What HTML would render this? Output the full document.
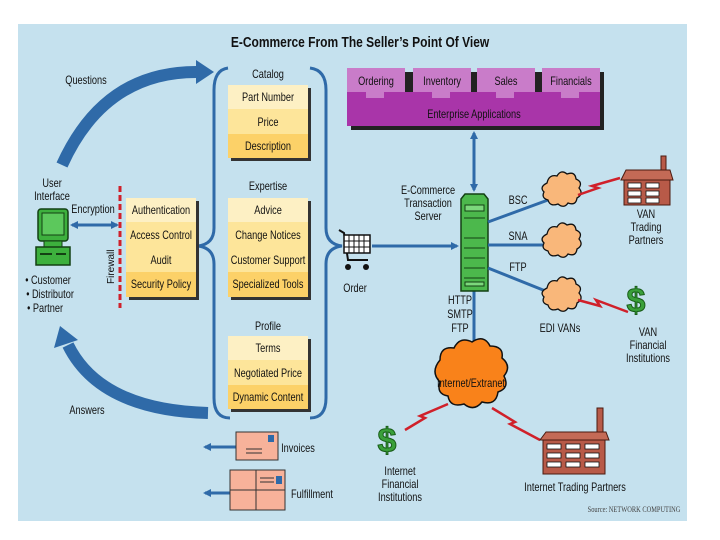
<!DOCTYPE html>
<html><head><meta charset="utf-8"><style>
html,body{margin:0;padding:0;background:#fff;}
svg{display:block;}
text{font-family:"Liberation Sans",sans-serif;font-size:11.5px;fill:#111;text-anchor:middle;}
text:not(.r){transform-box:fill-box;transform-origin:center;transform:scaleX(0.8);}
.b{font-weight:bold;}
</style></head><body>
<svg width="720" height="540" viewBox="0 0 720 540" xmlns="http://www.w3.org/2000/svg">
<defs>
<marker id="ah" markerWidth="8" markerHeight="8" refX="6" refY="4" orient="auto" markerUnits="userSpaceOnUse"><path d="M0,0 L8,4 L0,8 Z" fill="#2f6aa8"/></marker>
<marker id="ahs" markerWidth="8" markerHeight="8" refX="6" refY="4" orient="auto-start-reverse" markerUnits="userSpaceOnUse"><path d="M0,0 L8,4 L0,8 Z" fill="#2f6aa8"/></marker>
<g id="cloud"><path d="M-14,-10 q2,-9 10,-7 q4,-7 10,-2 q8,-3 9,5 q7,3 3,9 q5,6 -2,10 q-1,8 -9,5 q-4,6 -10,1 q-8,3 -10,-4 q-7,-2 -4,-8 q-5,-5 3,-9z" fill="#f9b77a" stroke="#111" stroke-width="1.3"/></g>
<g id="dollar"><text class="r" x="0" y="0" style="font-family:'Liberation Sans',sans-serif;font-size:34px;font-weight:bold;fill:#3aa03a;stroke:#185c18;stroke-width:1">$</text></g>
</defs>
<rect x="18" y="24" width="669" height="497" fill="#c5e1ee"/>
<text x="360" y="47" class="b" style="font-size:15px">E-Commerce From The Seller’s Point Of View</text>

<path d="M62,165 Q105,70 200,72" fill="none" stroke="#2f6aa8" stroke-width="12"/>
<path d="M196,60 L214,72 L196,84 Z" fill="#2f6aa8"/>
<text x="86" y="84">Questions</text>
<path d="M208,413 Q100,410 68,345" fill="none" stroke="#2f6aa8" stroke-width="12"/>
<path d="M54,348 L60,326 L78,340 Z" fill="#2f6aa8"/>
<text x="87" y="414">Answers</text>

<path d="M228,68 Q214,70 214,90 L214,228 Q214,244 198,246 Q214,248 214,264 L214,398 Q214,418 230,418" fill="none" stroke="#2f6aa8" stroke-width="3"/>
<path d="M310,68 Q326,70 326,90 L326,228 Q326,244 342,246 Q326,248 326,264 L326,398 Q326,418 310,418" fill="none" stroke="#2f6aa8" stroke-width="3"/>

<text x="268" y="78">Catalog</text>
<rect x="231" y="88" width="80" height="73" fill="#333"/>
<rect x="228" y="85" width="80" height="24" fill="#fdf0c4"/>
<rect x="228" y="109" width="80" height="25" fill="#fde59a"/>
<rect x="228" y="134" width="80" height="24" fill="#fcd168"/>
<text x="268" y="101">Part Number</text><text x="268" y="126">Price</text><text x="268" y="150">Description</text>

<text x="268" y="190">Expertise</text>
<rect x="231" y="201" width="80" height="99" fill="#333"/>
<rect x="228" y="198" width="80" height="24" fill="#fdf0c4"/>
<rect x="228" y="222" width="80" height="25" fill="#fde59a"/>
<rect x="228" y="247" width="80" height="25" fill="#fde59a"/>
<rect x="228" y="272" width="80" height="25" fill="#fcd168"/>
<text x="268" y="214">Advice</text><text x="268" y="239">Change Notices</text><text x="268" y="264">Customer Support</text><text x="268" y="288">Specialized Tools</text>

<text x="268" y="330">Profile</text>
<rect x="231" y="339" width="80" height="73" fill="#333"/>
<rect x="228" y="336" width="80" height="24" fill="#fdf0c4"/>
<rect x="228" y="360" width="80" height="25" fill="#fde59a"/>
<rect x="228" y="385" width="80" height="24" fill="#fcd168"/>
<text x="268" y="352">Terms</text><text x="268" y="377">Negotiated Price</text><text x="268" y="401">Dynamic Content</text>

<rect x="129" y="201" width="70" height="99" fill="#333"/>
<rect x="126" y="198" width="70" height="24" fill="#fdf0c4"/>
<rect x="126" y="222" width="70" height="25" fill="#fde59a"/>
<rect x="126" y="247" width="70" height="25" fill="#fde59a"/>
<rect x="126" y="272" width="70" height="25" fill="#fcd168"/>
<text x="161" y="214">Authentication</text><text x="161" y="239">Access Control</text><text x="161" y="264">Audit</text><text x="161" y="288">Security Policy</text>

<line x1="120" y1="186" x2="120" y2="308" stroke="#d0202a" stroke-width="3" stroke-dasharray="6,3"/>
<text class="r" x="0" y="0" transform="translate(114,284) rotate(-90)" style="font-size:10px;text-anchor:start">Firewall</text>

<text x="52" y="187">User</text><text x="52" y="200">Interface</text>
<text x="93" y="213">Encryption</text>
<line x1="72" y1="225" x2="117" y2="225" stroke="#2f6aa8" stroke-width="3" marker-start="url(#ahs)" marker-end="url(#ah)"/>
<rect x="38" y="209" width="30" height="32" rx="3" fill="#3db03d" stroke="#134013" stroke-width="1.5"/>
<rect x="42" y="213" width="22" height="22" fill="#5cc85c" stroke="#134013"/>
<rect x="44" y="241" width="18" height="6" fill="#3db03d" stroke="#134013"/>
<rect x="36" y="247" width="34" height="18" fill="#3db03d" stroke="#134013" stroke-width="1.5"/>
<line x1="40" y1="254" x2="52" y2="254" stroke="#134013" stroke-width="2"/>
<line x1="56" y1="254" x2="66" y2="254" stroke="#134013" stroke-width="2"/>
<text x="48" y="284">• Customer</text>
<text x="50" y="298">• Distributor</text>
<text x="45" y="312">• Partner</text>

<path d="M339,230 L344,233 L348,260 L368,260" fill="none" stroke="#111" stroke-width="2"/>
<rect x="344" y="235" width="26" height="18" fill="#fff" stroke="#111" stroke-width="1.5"/>
<path d="M349,235v18M354,235v18M359,235v18M364,235v18M344,241h26M344,247h26" stroke="#111" stroke-width="1"/>
<circle cx="348" cy="267" r="3" fill="#111"/><circle cx="366" cy="267" r="3" fill="#111"/>
<text x="355" y="292">Order</text>
<line x1="372" y1="246" x2="457" y2="246" stroke="#2f6aa8" stroke-width="3" marker-end="url(#ah)"/>

<rect x="351" y="72" width="253" height="58" fill="#222"/>
<rect x="347" y="92" width="253" height="34" fill="#a935a9"/>
<g fill="#c97cc9">
<rect x="347" y="68" width="58" height="24"/><rect x="366" y="92" width="18" height="6"/>
<rect x="413" y="68" width="58" height="24"/><rect x="432" y="92" width="18" height="6"/>
<rect x="477" y="68" width="58" height="24"/><rect x="496" y="92" width="18" height="6"/>
<rect x="542" y="68" width="58" height="24"/><rect x="561" y="92" width="18" height="6"/>
</g>
<text x="376" y="85">Ordering</text><text x="442" y="85">Inventory</text><text x="506" y="85">Sales</text><text x="571" y="85">Financials</text>
<text x="474" y="118">Enterprise Applications</text>
<line x1="474" y1="133" x2="474" y2="190" stroke="#2f6aa8" stroke-width="3" marker-start="url(#ahs)" marker-end="url(#ah)"/>

<text x="428" y="194">E-Commerce</text><text x="428" y="207">Transaction</text><text x="428" y="220">Server</text>
<line x1="474" y1="290" x2="474" y2="345" stroke="#2f6aa8" stroke-width="3"/>
<path d="M461,199 L465,194 L484,194 L488,199 L488,291 L461,291 Z" fill="#4cb84c" stroke="#134013" stroke-width="1.5"/>
<rect x="465" y="205" width="19" height="6" fill="#7cd87c" stroke="#134013"/>
<path d="M464,218h21M464,238h21M464,248h21M464,258h21M464,268h21M464,278h21" stroke="#134013"/>
<rect x="465" y="282" width="19" height="4" fill="#7cd87c" stroke="#134013"/>

<line x1="488" y1="222" x2="548" y2="200" stroke="#2f6aa8" stroke-width="3"/>
<line x1="488" y1="245" x2="548" y2="245" stroke="#2f6aa8" stroke-width="3"/>
<line x1="488" y1="268" x2="548" y2="292" stroke="#2f6aa8" stroke-width="3"/>
<text x="518" y="204">BSC</text><text x="518" y="240">SNA</text><text x="518" y="271">FTP</text>
<use href="#cloud" transform="translate(561,193)"/>
<use href="#cloud" transform="translate(561,244)"/>
<use href="#cloud" transform="translate(561,298)"/>
<text x="560" y="332">EDI VANs</text>

<g fill="none" stroke="#d0202a" stroke-width="2.5">
<path d="M578,195 L598,188 L592,186 L620,178"/>
<path d="M578,300 L600,306 L596,300 L628,312"/>
<path d="M405,430 L425,418 L420,416 L448,404"/>
<path d="M492,408 L515,422 L510,424 L540,440"/>
</g>

<rect x="661" y="156" width="5" height="30" fill="#b85a48" stroke="#4a1a10"/>
<path d="M621,180 L626,170 L670,170 L673,180 Z" fill="#c46a56" stroke="#4a1a10"/>
<rect x="624" y="180" width="46" height="25" fill="#b85a48" stroke="#4a1a10"/>
<g fill="#fff" stroke="#111" stroke-width="0.8">
<rect x="628" y="183" width="13" height="5"/><rect x="646" y="183" width="13" height="5"/>
<rect x="628" y="191" width="13" height="5"/><rect x="646" y="191" width="13" height="5"/>
<rect x="628" y="198" width="13" height="5"/><rect x="646" y="198" width="13" height="5"/>
</g>
<text x="646" y="218">VAN</text><text x="646" y="231">Trading</text><text x="646" y="244">Partners</text>

<use href="#dollar" transform="translate(636,312)"/>
<text x="648" y="336">VAN</text><text x="648" y="349">Financial</text><text x="648" y="362">Institutions</text>

<text x="460" y="304">HTTP</text><text x="460" y="318">SMTP</text><text x="460" y="332">FTP</text>

<path d="M440,360 q0,-14 14,-12 q6,-12 18,-6 q12,-8 18,4 q14,0 12,12 q10,8 2,18 q6,12 -6,16 q-2,14 -16,10 q-8,10 -18,2 q-14,4 -16,-8 q-12,-2 -8,-14 q-10,-10 0,-22z" fill="#f9821a" stroke="#111" stroke-width="1.5"/>
<text x="471" y="387">Internet/Extranet</text>

<use href="#dollar" transform="translate(387,452)"/>
<text x="400" y="475">Internet</text><text x="400" y="488">Financial</text><text x="400" y="501">Institutions</text>

<rect x="597" y="408" width="6" height="30" fill="#b85a48" stroke="#4a1a10"/>
<path d="M540,440 L546,432 L606,432 L609,440 Z" fill="#c46a56" stroke="#4a1a10"/>
<rect x="543" y="440" width="62" height="34" fill="#b85a48" stroke="#4a1a10"/>
<g fill="#fff" stroke="#111" stroke-width="0.8">
<rect x="547" y="444" width="14" height="5"/><rect x="566" y="444" width="14" height="5"/><rect x="585" y="444" width="14" height="5"/>
<rect x="547" y="453" width="14" height="5"/><rect x="566" y="453" width="14" height="5"/><rect x="585" y="453" width="14" height="5"/>
<rect x="547" y="462" width="14" height="5"/><rect x="566" y="462" width="14" height="5"/><rect x="585" y="462" width="14" height="5"/>
</g>
<text x="575" y="491">Internet Trading Partners</text>
<text x="634" y="512" style="font-family:'Liberation Serif',serif;font-size:8px;fill:#444">Source: NETWORK COMPUTING</text>

<line x1="236" y1="447" x2="205" y2="447" stroke="#2f6aa8" stroke-width="3" marker-end="url(#ah)"/>
<rect x="236" y="432" width="42" height="28" fill="#f7b29a" stroke="#333"/>
<rect x="268" y="435" width="6" height="7" fill="#2f6aa8"/>
<path d="M246,449h16M246,453h16" stroke="#333"/>
<text x="298" y="452">Invoices</text>
<line x1="230" y1="493" x2="205" y2="493" stroke="#2f6aa8" stroke-width="3" marker-end="url(#ah)"/>
<rect x="230" y="470" width="55" height="40" fill="#f7b29a" stroke="#333"/>
<path d="M256,470v40M230,490h55" stroke="#333"/>
<path d="M260,478h14M260,482h14" stroke="#333"/>
<rect x="276" y="476" width="6" height="8" fill="#2f6aa8"/>
<text x="312" y="498">Fulfillment</text>
</svg>
</body></html>
